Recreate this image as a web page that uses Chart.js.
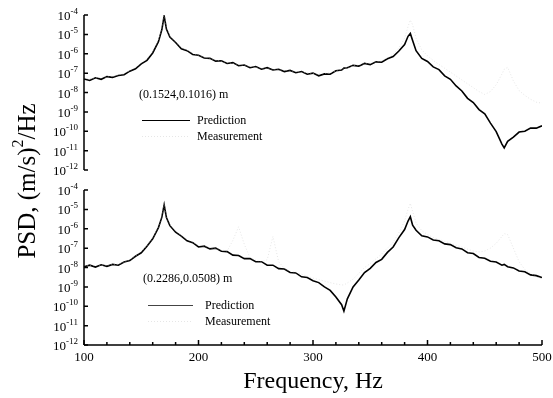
<!DOCTYPE html>
<html>
<head>
<meta charset="utf-8">
<script src="https://cdn.jsdelivr.net/npm/chart.js@4/dist/chart.umd.min.js"></script>
<style>
  body { margin: 0; background: #fff; }
  #wrap { position: relative; width: 553px; height: 398px; }
  #wrap canvas { position: absolute; left: 0; top: 0; }
</style>
</head>
<body>
<div id="wrap">
  <canvas id="bottomPanel" width="553" height="398"></canvas>
  <canvas id="topPanel" width="553" height="398"></canvas>
</div>
<script>
// frequencies (Hz) shared by all four curves
const freqs = [
  100, 105, 110, 115, 120, 125, 130, 135, 140, 145,
  150, 155, 160, 165, 168, 170, 172, 175, 180, 185,
  190, 195, 200, 205, 210, 215, 220, 225, 230, 235,
  240, 245, 250, 255, 260, 265, 270, 275, 280, 285,
  290, 295, 300, 305, 310, 315, 320, 325, 327, 330,
  335, 340, 345, 350, 355, 360, 365, 370, 375, 380,
  383, 385, 387, 390, 395, 400, 405, 410, 415, 420,
  425, 430, 435, 440, 445, 450, 455, 460, 465, 467,
  470, 475, 480, 485, 490, 495, 500
];

// log10 of PSD
const predTopLog = [
  -7.30, -7.38, -7.24, -7.32, -7.18, -7.22, -7.12, -7.08, -6.90, -6.78,
  -6.52, -6.34, -5.96, -5.38, -4.75, -4.05, -4.72, -5.14, -5.42, -5.74,
  -5.84, -6.04, -6.08, -6.22, -6.24, -6.38, -6.36, -6.50, -6.46, -6.62,
  -6.58, -6.72, -6.66, -6.80, -6.72, -6.84, -6.80, -6.92, -6.86, -6.98,
  -6.92, -7.06, -7.00, -7.14, -7.04, -7.06, -6.88, -6.84, -6.74, -6.72,
  -6.60, -6.64, -6.50, -6.56, -6.42, -6.44, -6.26, -6.14, -5.86, -5.52,
  -5.10, -4.95, -5.32, -5.84, -6.24, -6.40, -6.68, -6.82, -7.14, -7.32,
  -7.66, -7.92, -8.30, -8.52, -8.88, -9.10, -9.58, -10.02, -10.66, -10.86,
  -10.52, -10.30, -10.04, -10.00, -9.84, -9.84, -9.72
];
const measTopLog = [
  -7.25, -7.28, -7.25, -7.22, -7.20, -7.16, -7.10, -7.00, -6.88, -6.70,
  -6.48, -6.25, -5.90, -5.30, -4.70, -3.95, -4.65, -5.10, -5.40, -5.68,
  -5.82, -5.98, -6.08, -6.18, -6.26, -6.32, -6.38, -6.46, -6.50, -6.56,
  -6.60, -6.66, -6.70, -6.74, -6.76, -6.80, -6.84, -6.86, -6.90, -6.92,
  -6.96, -6.98, -7.02, -7.04, -7.02, -6.98, -6.90, -6.80, -6.76, -6.70,
  -6.62, -6.58, -6.52, -6.48, -6.42, -6.36, -6.22, -6.02, -5.70, -5.20,
  -4.60, -4.26, -4.50, -5.20, -5.80, -6.10, -6.35, -6.55, -6.75, -6.95,
  -7.15, -7.35, -7.55, -7.75, -7.95, -8.10, -7.95, -7.60, -7.05, -6.80,
  -6.70, -7.40, -7.90, -8.15, -8.35, -8.50, -8.55
];
const predBotLog = [
  -7.96, -7.88, -7.98, -7.86, -7.94, -7.84, -7.88, -7.72, -7.64, -7.42,
  -7.24, -6.90, -6.52, -5.94, -5.40, -4.77, -5.42, -5.84, -6.18, -6.38,
  -6.62, -6.72, -6.94, -6.90, -7.04, -7.00, -7.16, -7.18, -7.36, -7.38,
  -7.54, -7.54, -7.70, -7.70, -7.88, -7.88, -8.06, -8.08, -8.26, -8.28,
  -8.48, -8.52, -8.68, -8.78, -9.00, -9.18, -9.52, -9.92, -10.25, -9.62,
  -9.00, -8.64, -8.26, -8.04, -7.74, -7.58, -7.22, -6.94, -6.46, -6.04,
  -5.60, -5.38, -5.82, -6.08, -6.36, -6.42, -6.58, -6.62, -6.78, -6.82,
  -6.98, -7.04, -7.24, -7.28, -7.48, -7.52, -7.68, -7.72, -7.88, -7.84,
  -7.96, -8.02, -8.18, -8.22, -8.38, -8.42, -8.52
];
const measBotLog = [
  -7.90, -7.90, -7.90, -7.88, -7.88, -7.85, -7.82, -7.72, -7.60, -7.42,
  -7.18, -6.88, -6.48, -5.90, -5.30, -4.70, -5.35, -5.80, -6.12, -6.36,
  -6.55, -6.70, -6.85, -6.90, -6.98, -7.02, -7.10, -7.15, -6.60, -5.90,
  -6.80, -7.50, -7.62, -7.70, -7.60, -6.40, -7.70, -8.05, -8.20, -8.25,
  -8.35, -8.45, -8.55, -8.62, -8.70, -8.78, -8.85, -8.90, -8.90, -8.80,
  -8.60, -8.30, -8.00, -7.80, -7.55, -7.30, -7.00, -6.70, -6.20, -5.60,
  -5.00, -4.69, -5.10, -5.70, -6.10, -6.30, -6.45, -6.55, -6.65, -6.75,
  -6.85, -6.95, -7.05, -7.15, -7.20, -7.15, -7.00, -6.75, -6.40, -6.25,
  -6.30, -7.00, -7.70, -8.10, -8.30, -8.50, -8.60
];

const yExps = [4, 5, 6, 7, 8, 9, 10, 11, 12];
const xTicks = [100, 200, 300, 400, 500];
const seriesNames = ['Prediction', 'Measurement'];
const notes = ['(0.1524,0.1016) m', '(0.2286,0.0508) m'];

const serif = '"Liberation Serif", "Times New Roman", serif';
const measColor = 'rgba(200,200,200,0.45)';
const toPts = logs => freqs.map((f, i) => ({ x: f, y: Math.pow(10, logs[i]) }));

function drawPow(ctx, exp, right, y) {
  const sup = '-' + exp;
  ctx.font = '9px ' + serif;
  const ws = ctx.measureText(sup).width;
  ctx.font = '13px ' + serif;
  const wb = ctx.measureText('10').width;
  ctx.textAlign = 'left';
  ctx.textBaseline = 'alphabetic';
  ctx.fillText('10', right - ws - wb, y + 5);
  ctx.font = '9px ' + serif;
  ctx.fillText(sup, right - ws, y - 1);
}

const decor = {
  id: 'decor',
  afterDatasetsDraw(chart, args, o) {
    const { ctx, chartArea: a, scales: { x, y } } = chart;
    ctx.save();
    ctx.strokeStyle = '#000';
    ctx.fillStyle = '#000';
    ctx.lineWidth = 1.5;

    // left axis with decade ticks
    ctx.beginPath();
    ctx.moveTo(a.left, a.top);
    ctx.lineTo(a.left, a.bottom);
    yExps.forEach(e => {
      const py = y.getPixelForValue(Math.pow(10, -e));
      ctx.moveTo(a.left, py);
      ctx.lineTo(a.left + 4, py);
    });
    ctx.stroke();
    yExps.forEach(e => drawPow(ctx, e, a.left - 6, y.getPixelForValue(Math.pow(10, -e))));

    if (o.xAxis) {
      ctx.beginPath();
      ctx.moveTo(a.left, a.bottom);
      ctx.lineTo(a.right, a.bottom);
      for (let f = 100; f <= 500; f += 20) {
        const px = x.getPixelForValue(f);
        const len = f % 100 === 0 ? 5 : 3;
        ctx.moveTo(px, a.bottom);
        ctx.lineTo(px, a.bottom - len);
      }
      ctx.stroke();
      ctx.font = '13px ' + serif;
      ctx.textAlign = 'center';
      ctx.textBaseline = 'top';
      xTicks.forEach(t => ctx.fillText(String(t), x.getPixelForValue(t), a.bottom + 6));

      ctx.font = '24px ' + serif;
      ctx.textBaseline = 'middle';
      ctx.fillText('Frequency, Hz', (a.left + a.right) / 2, 382);

      // y title spanning both panels
      ctx.save();
      ctx.translate(26, 181);
      ctx.rotate(-Math.PI / 2);
      const p1 = 'PSD, (m/s)', p2 = '2', p3 = '/Hz';
      ctx.font = '25px ' + serif;
      const w1 = ctx.measureText(p1).width, w3 = ctx.measureText(p3).width;
      ctx.font = '16px ' + serif;
      const w2 = ctx.measureText(p2).width;
      let sx = -(w1 + w2 + w3) / 2;
      ctx.textAlign = 'left';
      ctx.textBaseline = 'alphabetic';
      ctx.font = '25px ' + serif;
      ctx.fillText(p1, sx, 9);
      ctx.font = '16px ' + serif;
      ctx.fillText(p2, sx + w1, -3);
      ctx.font = '25px ' + serif;
      ctx.fillText(p3, sx + w1 + w2, 9);
      ctx.restore();
    }

    // position note and legend
    ctx.font = '12px ' + serif;
    ctx.textAlign = 'left';
    ctx.textBaseline = 'middle';
    ctx.fillText(o.note, o.noteX, o.noteY);
    const lg = o.legend;
    ctx.lineWidth = 1.2;
    ctx.strokeStyle = lg.color;
    ctx.beginPath();
    ctx.moveTo(lg.x0, lg.y);
    ctx.lineTo(lg.x1, lg.y);
    ctx.stroke();
    ctx.lineWidth = 1;
    ctx.strokeStyle = measColor;
    ctx.setLineDash([1, 2]);
    ctx.beginPath();
    ctx.moveTo(lg.x0, lg.y + 16);
    ctx.lineTo(lg.x1, lg.y + 16);
    ctx.stroke();
    ctx.setLineDash([]);
    ctx.fillStyle = '#000';
    ctx.fillText(seriesNames[0], lg.tx, lg.y);
    ctx.fillText(seriesNames[1], lg.tx, lg.y + 16);
    ctx.restore();
  }
};

function makePanel(id, pred, meas, pad, deco) {
  new Chart(document.getElementById(id), {
    type: 'line',
    data: {
      datasets: [
        { label: seriesNames[1], data: toPts(meas), borderColor: measColor,
          borderWidth: 1, borderDash: [1, 2], pointRadius: 0, tension: 0 },
        { label: seriesNames[0], data: toPts(pred), borderColor: '#000',
          borderWidth: 1.6, pointRadius: 0, tension: 0 }
      ]
    },
    options: {
      responsive: false,
      animation: false,
      layout: { padding: pad },
      scales: {
        x: { type: 'linear', min: 100, max: 500, display: false },
        y: { type: 'logarithmic', min: 1e-12, max: 1e-4, display: false }
      },
      plugins: { legend: { display: false }, tooltip: { enabled: false }, decor: deco }
    },
    plugins: [decor]
  });
}

makePanel('topPanel', predTopLog, measTopLog,
  { left: 84, right: 11, top: 15, bottom: 228 },
  { xAxis: false, note: notes[0], noteX: 139, noteY: 95,
    legend: { x0: 142, x1: 190, tx: 197, y: 120.5, color: '#000' } });

makePanel('bottomPanel', predBotLog, measBotLog,
  { left: 84, right: 11, top: 190, bottom: 53 },
  { xAxis: true, note: notes[1], noteX: 143, noteY: 279,
    legend: { x0: 148, x1: 193, tx: 205, y: 305.5, color: '#444' } });
</script>
</body>
</html>
